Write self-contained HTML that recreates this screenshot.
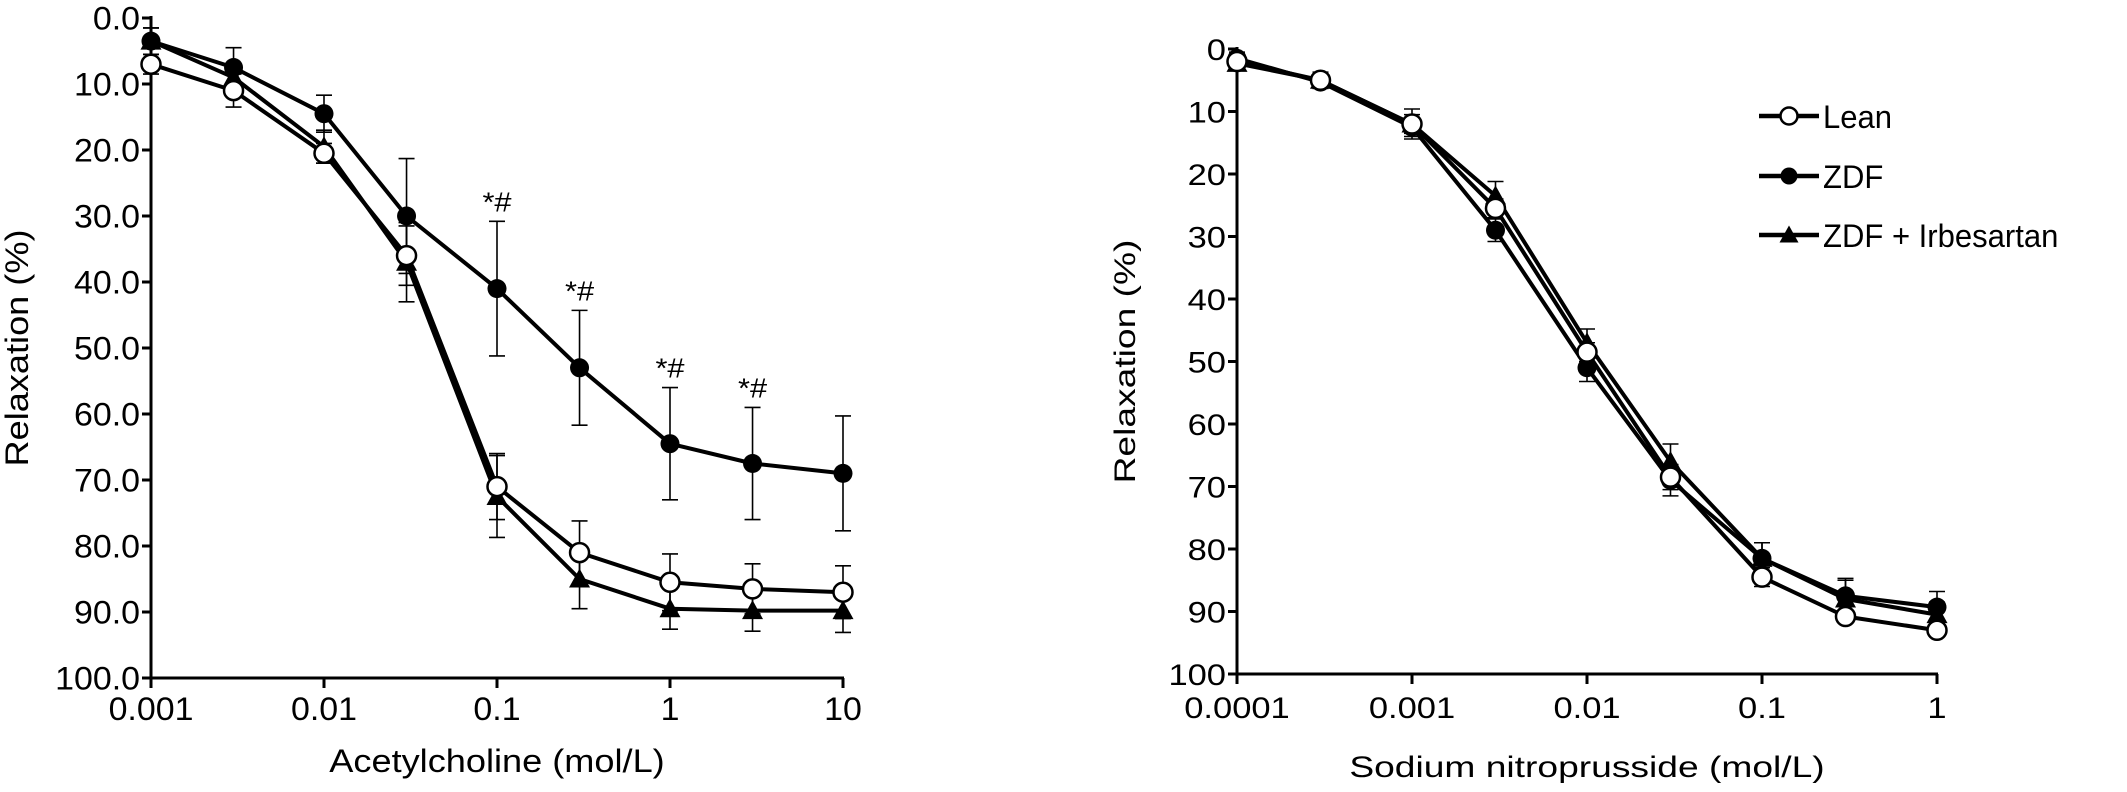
<!DOCTYPE html>
<html><head><meta charset="utf-8"><style>
html,body{margin:0;padding:0;background:#fff;}
svg{display:block;font-family:"Liberation Sans",Arial,sans-serif;}
</style></head><body>
<svg id="chart" width="2127" height="792" viewBox="0 0 2127 792" xmlns="http://www.w3.org/2000/svg"></svg>
<script>
// ---- Panel A: Acetylcholine ----
const achConc = [0.001, 0.003, 0.01, 0.03, 0.1, 0.3, 1, 3, 10];
const achLean = [7, 11, 20.5, 36, 71, 81, 85.5, 86.5, 87];
const achLeanErr = [1.5, 2.5, 1.5, 4.5, 5, 4.8, 4.3, 3.8, 4];
const achZDF = [3.5, 7.5, 14.5, 30, 41, 53, 64.5, 67.5, 69];
const achZDFErr = [2, 3, 2.8, 8.7, 10.2, 8.7, 8.5, 8.5, 8.7];
const achIrb = [3.5, 9, 19.5, 37, 72.5, 85, 89.5, 89.8, 89.8];
const achIrbErr = [2, 2, 2.5, 6, 6.2, 4.5, 3.1, 3.1, 3.3];
const achStarIdx = [4, 5, 6, 7];
const achXTicks = [0.001, 0.01, 0.1, 1, 10];
const achXTickLabels = ["0.001", "0.01", "0.1", "1", "10"];
const achYTicks = [0, 10, 20, 30, 40, 50, 60, 70, 80, 90, 100];
const achYTickLabels = ["0.0","10.0","20.0","30.0","40.0","50.0","60.0","70.0","80.0","90.0","100.0"];
// ---- Panel B: Sodium nitroprusside ----
const snpConc = [0.0001, 0.0003, 0.001, 0.003, 0.01, 0.03, 0.1, 0.3, 1];
const snpLean = [2, 5, 12, 25.5, 48.5, 68.5, 84.5, 90.8, 93];
const snpLeanErr = [1, 1, 1.5, 1.5, 1.5, 2, 1.5, 1, 1];
const snpZDF = [1.5, 5.3, 12.5, 29, 51, 69, 81.5, 87.5, 89.3];
const snpZDFErr = [1, 1, 1.5, 1.8, 2.2, 2.5, 2.5, 2.5, 2.5];
const snpIrb = [2.3, 5, 12, 23.5, 47, 66, 81.5, 88, 90.5];
const snpIrbErr = [1, 1.3, 2.4, 2.3, 2.2, 2.8, 2.5, 3.3, 2];
const snpXTicks = [0.0001, 0.001, 0.01, 0.1, 1];
const snpXTickLabels = ["0.0001", "0.001", "0.01", "0.1", "1"];
const snpYTicks = [0, 10, 20, 30, 40, 50, 60, 70, 80, 90, 100];
const snpYTickLabels = ["0","10","20","30","40","50","60","70","80","90","100"];
const legendLabels = ["Lean", "ZDF", "ZDF + Irbesartan"];

const NS = "http://www.w3.org/2000/svg";
const svg = document.getElementById("chart");
function el(tag, attrs, parent) {
  const e = document.createElementNS(NS, tag);
  for (const k in attrs) e.setAttribute(k, attrs[k]);
  (parent || svg).appendChild(e);
  return e;
}
function txt(x, y, s, size, anchor, sx, parent, rot) {
  const t = el("text", {"font-size": size, "text-anchor": anchor, fill: "#000",
    transform: `translate(${x},${y})` + (rot ? ` rotate(${rot})` : "") + ` scale(${sx},1)`}, parent);
  t.textContent = s;
  return t;
}
function marker(g, type, x, y, r) {
  let m;
  if (type === "open") m = el("circle", {cx: x, cy: y, r: r, fill: "#fff", stroke: "#000", "stroke-width": 2.5}, g);
  else if (type === "filled") m = el("circle", {cx: x, cy: y, r: r, fill: "#000"}, g);
  else m = el("polygon", {points: `${x},${y - r - 1} ${x - r - 1},${y + r - 1} ${x + r + 1},${y + r - 1}`, fill: "#000"}, g);
  return m;
}

function panel(cfg) {
  const g = el("g", {});
  
  
  const xs = v => cfg.x0 + (Math.log10(v) - Math.log10(cfg.xmin)) * cfg.dec;
  const ys = v => cfg.y0 + (v / 100) * (cfg.y100 - cfg.y0);
  const yAxis = el("line", {x1: cfg.x0, y1: cfg.y0 - 2, x2: cfg.x0, y2: cfg.y100, stroke: "#000", "stroke-width": 3}, g);
  
  
  const xEnd = xs(cfg.xTicks[cfg.xTicks.length - 1]);
  const xAxis = el("line", {x1: cfg.x0 - 1, y1: cfg.y100, x2: xEnd + 1, y2: cfg.y100, stroke: "#000", "stroke-width": 3}, g);
  
  
  cfg.yTicks.forEach((v, i) => {
    el("line", {x1: cfg.x0 - 9, y1: ys(v), x2: cfg.x0, y2: ys(v), stroke: "#000", "stroke-width": 3}, g);
    const t = txt(cfg.x0 - 11, ys(v) + cfg.fs * 0.36, cfg.yLabels[i], cfg.fs, "end", cfg.sx, g);
    
    
  });
  cfg.xTicks.forEach((v, i) => {
    el("line", {x1: xs(v), y1: cfg.y100, x2: xs(v), y2: cfg.y100 + 10, stroke: "#000", "stroke-width": 3}, g);
    const t = txt(xs(v), cfg.xLabY, cfg.xLabels[i], cfg.fs, "middle", cfg.sx, g);
    
    
  });
  const xt = txt((cfg.x0 + xEnd) / 2, cfg.xTitleY, cfg.xTitle, cfg.fs, "middle", cfg.tsx, g);
  
  
  const yt = txt(cfg.yTitleX, (cfg.y0 + cfg.y100) / 2, "Relaxation (%)", cfg.fs, "middle", cfg.tsx, g, -90);
  
  
  cfg.series.forEach(s => {
    const sg = el("g", {}, g);
    
    
    s.vals.forEach((v, i) => {
      const x = xs(cfg.conc[i]);
      const eb = el("path", {d: `M${x},${ys(v - s.err[i])}V${ys(v + s.err[i])}M${x - 8},${ys(v - s.err[i])}h16M${x - 8},${ys(v + s.err[i])}h16`, stroke: "#000", "stroke-width": 1.6, fill: "none"}, sg);
      
      
    });
    const pts = s.vals.map((v, i) => `${xs(cfg.conc[i])},${ys(v)}`).join(" ");
    const pl = el("polyline", {points: pts, fill: "none", stroke: "#000", "stroke-width": 4, "stroke-linejoin": "round"}, sg);
    
    
  });
  cfg.series.forEach(s => {
    s.vals.forEach((v, i) => {
      const m = marker(g, s.type, xs(cfg.conc[i]), ys(v), 9.5);
      
      
    });
  });
  return {xs, ys, g};
}

const A = panel({name: "acetylcholine-panel", x0: 151, xmin: 0.001, dec: 173, y0: 18, y100: 678,
  conc: achConc, xTicks: achXTicks, xLabels: achXTickLabels, yTicks: achYTicks, yLabels: achYTickLabels,
  fs: 32, sx: 1.06, tsx: 1.13, xLabY: 720, xTitleY: 772, yTitleX: 28, xTitle: "Acetylcholine (mol/L)",
  series: [
    {name: "zdf-series", type: "filled", vals: achZDF, err: achZDFErr},
    {name: "irbesartan-series", type: "tri", vals: achIrb, err: achIrbErr},
    {name: "lean-series", type: "open", vals: achLean, err: achLeanErr}
  ]});
achStarIdx.forEach(i => {
  const t = txt(A.xs(achConc[i]), A.ys(achZDF[i] - achZDFErr[i]) - 10, "*#", 28, "middle", 1.1, A.g);
  
  
});

const B = panel({name: "nitroprusside-panel", x0: 1237, xmin: 0.0001, dec: 175, y0: 49, y100: 674,
  conc: snpConc, xTicks: snpXTicks, xLabels: snpXTickLabels, yTicks: snpYTicks, yLabels: snpYTickLabels,
  fs: 30, sx: 1.15, tsx: 1.24, xLabY: 718, xTitleY: 777, yTitleX: 1135, xTitle: "Sodium nitroprusside (mol/L)",
  series: [
    {name: "zdf-series", type: "filled", vals: snpZDF, err: snpZDFErr},
    {name: "irbesartan-series", type: "tri", vals: snpIrb, err: snpIrbErr},
    {name: "lean-series", type: "open", vals: snpLean, err: snpLeanErr}
  ]});

const lg = el("g", {});


const legTypes = ["open", "filled", "tri"];
const legY = [116, 176, 235];
legendLabels.forEach((lab, i) => {
  const eg = el("g", {}, lg);
  
  
  el("line", {x1: 1759, y1: legY[i], x2: 1819, y2: legY[i], stroke: "#000", "stroke-width": 4.5}, eg);
  marker(eg, legTypes[i], 1789, legY[i], 8.5);
  txt(1823, legY[i] + 12, lab, 32, "start", 0.97, eg);
});
</script>
</body></html>
